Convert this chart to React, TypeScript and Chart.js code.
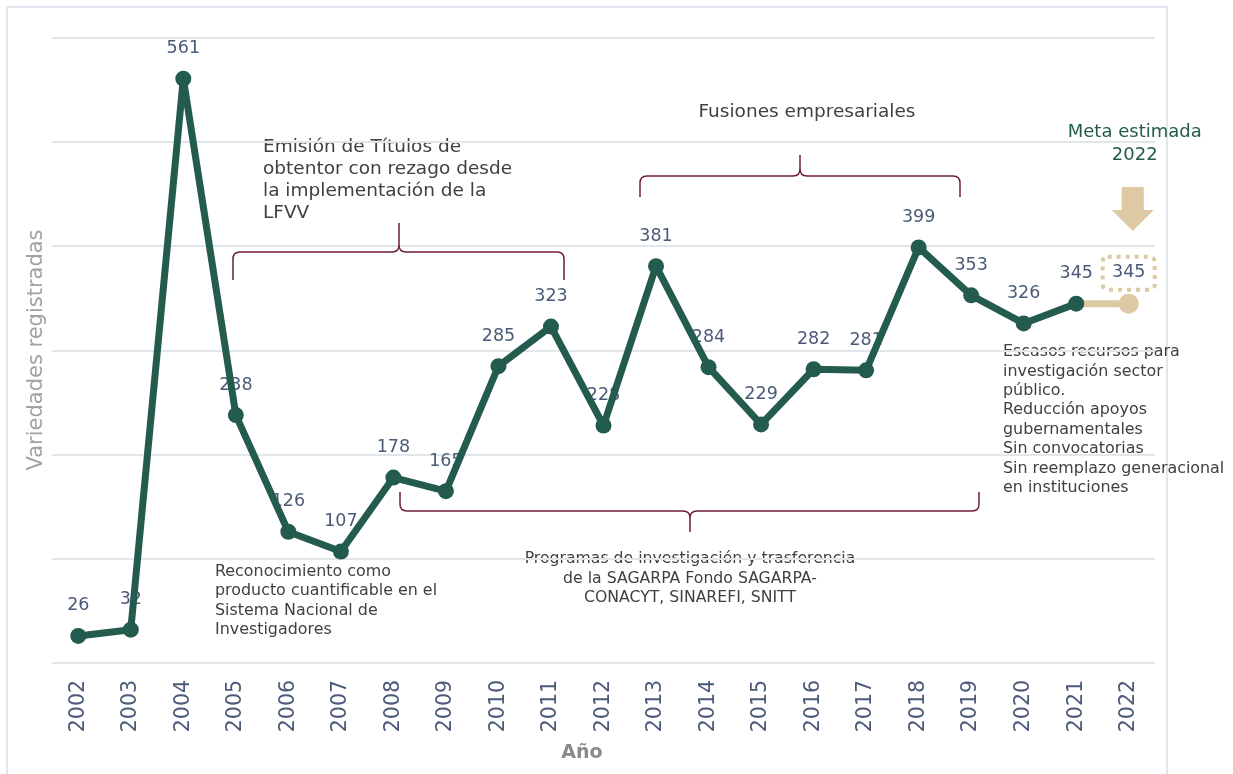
import React, { useEffect, useRef } from "react";
import { Chart, registerables } from "chart.js";

Chart.register(...registerables);

// ---------- DATA ----------
const YEARS = [
  "2002", "2003", "2004", "2005", "2006", "2007", "2008", "2009", "2010", "2011",
  "2012", "2013", "2014", "2015", "2016", "2017", "2018", "2019", "2020", "2021", "2022",
];
const REGISTERED = [
  26, 32, 561, 238, 126, 107, 178, 165, 285, 323,
  228, 381, 284, 229, 282, 281, 399, 353, 326, 345, null,
];
const TARGET = [
  null, null, null, null, null, null, null, null, null, null,
  null, null, null, null, null, null, null, null, null, 345, 345,
];
const Y_MIN = 0;
const Y_MAX = 600;
const Y_STEP = 100;

const Y_TITLE = "Variedades registradas";
const X_TITLE = "Año";
const META_TEXT = ["Meta estimada", "2022"];
const EMISION_TEXT = [
  "Emisión de Títulos de",
  "obtentor con rezago desde",
  "la implementación de la",
  "LFVV",
];
const FUSIONES_TEXT = ["Fusiones empresariales"];
const PROGRAMAS_TEXT = [
  "Programas de investigación y trasferencia",
  "de la SAGARPA Fondo SAGARPA-",
  "CONACYT, SINAREFI, SNITT",
];
const RECONOCIMIENTO_TEXT = [
  "Reconocimiento como",
  "producto cuantificable en el",
  "Sistema Nacional de",
  "Investigadores",
];
const ESCASOS_TEXT = [
  "Escasos recursos para",
  "investigación sector",
  "público.",
  "Reducción apoyos",
  "gubernamentales",
  "Sin convocatorias",
  "Sin reemplazo generacional",
  "en instituciones",
];

// ---------- STYLE ----------
const FONT = "'DejaVu Sans', 'Open Sans', sans-serif";
const GREEN = "#235B4E";
const BEIGE = "#DDC9A3";
const MAROON = "#6F1D3A";
const LABEL_COLOR = "#4B5A78";
const NOTE_COLOR = "#404040";
const GRID_COLOR = "#E1E5EC";

function drawLines(
  ctx: CanvasRenderingContext2D,
  lines: string[],
  x: number,
  y: number,
  lh: number,
  align: CanvasTextAlign,
  font: string,
  color: string
) {
  ctx.font = font;
  ctx.fillStyle = color;
  ctx.textAlign = align;
  ctx.textBaseline = "middle";
  lines.forEach((l, i) => ctx.fillText(l, x, y + i * lh));
}

function drawBrace(
  ctx: CanvasRenderingContext2D,
  x1: number,
  x2: number,
  xm: number,
  yLine: number,
  yEnd: number,
  yTip: number
) {
  const dirEnd = Math.sign(yEnd - yLine);
  const dirTip = Math.sign(yTip - yLine);
  const r = 7;
  ctx.beginPath();
  ctx.moveTo(x1, yEnd);
  ctx.lineTo(x1, yLine + dirEnd * r);
  ctx.quadraticCurveTo(x1, yLine, x1 + r, yLine);
  ctx.lineTo(xm - r, yLine);
  ctx.quadraticCurveTo(xm, yLine, xm, yLine + dirTip * r);
  ctx.lineTo(xm, yTip);
  ctx.moveTo(xm, yLine + dirTip * r);
  ctx.quadraticCurveTo(xm, yLine, xm + r, yLine);
  ctx.lineTo(x2 - r, yLine);
  ctx.quadraticCurveTo(x2, yLine, x2, yLine + dirEnd * r);
  ctx.lineTo(x2, yEnd);
  ctx.stroke();
}

const annotationPlugin = {
  id: "annotationPlugin",
  beforeDraw(chart: any) {
    const ctx: CanvasRenderingContext2D = chart.ctx;
    ctx.save();
    // outer frame
    ctx.strokeStyle = "#E2E6EE";
    ctx.lineWidth = 2;
    ctx.strokeRect(7, 7, 1160, 820);

    // notes (under gridlines)
    drawLines(ctx, EMISION_TEXT, 263, 147, 22, "left", `18.5px ${FONT}`, NOTE_COLOR);
    drawLines(ctx, FUSIONES_TEXT, 807, 112, 22, "center", `18.5px ${FONT}`, NOTE_COLOR);
    drawLines(ctx, PROGRAMAS_TEXT, 690, 559, 19.5, "center", `15.7px ${FONT}`, NOTE_COLOR);
    drawLines(ctx, RECONOCIMIENTO_TEXT, 215, 572, 19.3, "left", `15.9px ${FONT}`, NOTE_COLOR);
    drawLines(ctx, ESCASOS_TEXT, 1003, 352, 19.4, "left", `15.9px ${FONT}`, NOTE_COLOR);

    // axis titles
    ctx.save();
    ctx.translate(37, 350);
    ctx.rotate(-Math.PI / 2);
    ctx.font = `21px ${FONT}`;
    ctx.fillStyle = "#A2A2A2";
    ctx.textAlign = "center";
    ctx.textBaseline = "middle";
    ctx.fillText(Y_TITLE, 0, 0);
    ctx.restore();

    ctx.font = `bold 19px ${FONT}`;
    ctx.fillStyle = "#8A8A8A";
    ctx.textAlign = "center";
    ctx.textBaseline = "middle";
    ctx.fillText(X_TITLE, 582, 753);
    ctx.restore();
  },
  beforeDatasetsDraw(chart: any) {
    const ctx: CanvasRenderingContext2D = chart.ctx;
    ctx.save();
    // braces
    ctx.strokeStyle = MAROON;
    ctx.lineWidth = 1.5;
    drawBrace(ctx, 233, 564, 399, 252, 280, 223);
    drawBrace(ctx, 640, 960, 800, 176, 197, 155);
    drawBrace(ctx, 400, 979, 690, 511, 492, 532);

    // data labels
    ctx.font = `17.5px ${FONT}`;
    ctx.fillStyle = LABEL_COLOR;
    ctx.textAlign = "center";
    ctx.textBaseline = "middle";
    const meta = chart.getDatasetMeta(0);
    meta.data.forEach((pt: any, i: number) => {
      const v = REGISTERED[i];
      if (v === null || v === undefined) return;
      ctx.fillText(String(v), pt.x, pt.y - 30);
    });
    const metaT = chart.getDatasetMeta(1);
    const last = TARGET.length - 1;
    const pT = metaT.data[last];
    if (pT && TARGET[last] !== null) {
      ctx.fillText(String(TARGET[last]), pT.x, pT.y - 31);
    }
    ctx.restore();
  },
  afterDatasetsDraw(chart: any) {
    const ctx: CanvasRenderingContext2D = chart.ctx;
    const metaT = chart.getDatasetMeta(1);
    const last = TARGET.length - 1;
    const pT = metaT.data[last];
    if (!pT) return;
    const cx = pT.x;
    const cy = pT.y;
    ctx.save();
    // dotted box around target label
    ctx.strokeStyle = BEIGE;
    ctx.lineWidth = 4;
    ctx.setLineDash([4, 5]);
    ctx.beginPath();
    (ctx as any).roundRect(cx - 26, cy - 47, 52, 33, 5);
    ctx.stroke();
    ctx.setLineDash([]);

    // down arrow
    const ax = cx + 4;
    ctx.fillStyle = BEIGE;
    ctx.beginPath();
    ctx.moveTo(ax - 11, 187);
    ctx.lineTo(ax + 11, 187);
    ctx.lineTo(ax + 11, 210);
    ctx.lineTo(ax + 21, 210);
    ctx.lineTo(ax, 231);
    ctx.lineTo(ax - 21, 210);
    ctx.lineTo(ax - 11, 210);
    ctx.closePath();
    ctx.fill();

    // meta text
    drawLines(ctx, META_TEXT, cx + 6, 132, 23, "center", `18px ${FONT}`, GREEN);
    ctx.restore();
  },
};

export default function App() {
  const canvasRef = useRef<HTMLCanvasElement | null>(null);

  useEffect(() => {
    if (!canvasRef.current) return;
    const chart = new Chart(canvasRef.current, {
      type: "line",
      data: {
        labels: YEARS,
        datasets: [
          {
            label: "Variedades registradas",
            data: REGISTERED,
            borderColor: GREEN,
            backgroundColor: GREEN,
            borderWidth: 7,
            borderJoinStyle: "round",
            borderCapStyle: "round",
            pointRadius: 8,
            pointBorderWidth: 0,
            pointBackgroundColor: GREEN,
            tension: 0,
            spanGaps: false,
          },
          {
            label: "Meta estimada",
            data: TARGET,
            borderColor: BEIGE,
            backgroundColor: BEIGE,
            borderWidth: 7,
            pointRadius: TARGET.map((_, i) => (i === TARGET.length - 1 ? 10 : 0)),
            pointBorderWidth: 0,
            pointBackgroundColor: BEIGE,
            tension: 0,
          },
        ],
      },
      options: {
        responsive: false,
        animation: false,
        events: [],
        layout: { padding: { left: 52, right: 78, top: 38, bottom: 0 } },
        plugins: {
          legend: { display: false },
          tooltip: { enabled: false },
        },
        scales: {
          x: {
            offset: true,
            grid: { display: false, drawTicks: false },
            border: { display: false },
            ticks: {
              autoSkip: false,
              minRotation: 90,
              maxRotation: 90,
              padding: 17,
              color: LABEL_COLOR,
              font: { family: FONT, size: 20.5 },
            },
            afterFit: (scale: any) => {
              scale.height = 111;
            },
          },
          y: {
            min: Y_MIN,
            max: Y_MAX,
            ticks: { display: false, stepSize: Y_STEP },
            grid: { color: GRID_COLOR, lineWidth: 2, drawTicks: false },
            border: { display: false },
            afterFit: (scale: any) => {
              scale.width = 0;
            },
          },
        },
      },
      plugins: [annotationPlugin],
    });
    return () => chart.destroy();
  }, []);

  return (
    <div style={{ position: "fixed", left: 0, top: 0, width: 1233, height: 774, background: "#fff" }}>
      <canvas ref={canvasRef} width={1233} height={774} style={{ display: "block" }} />
    </div>
  );
}
